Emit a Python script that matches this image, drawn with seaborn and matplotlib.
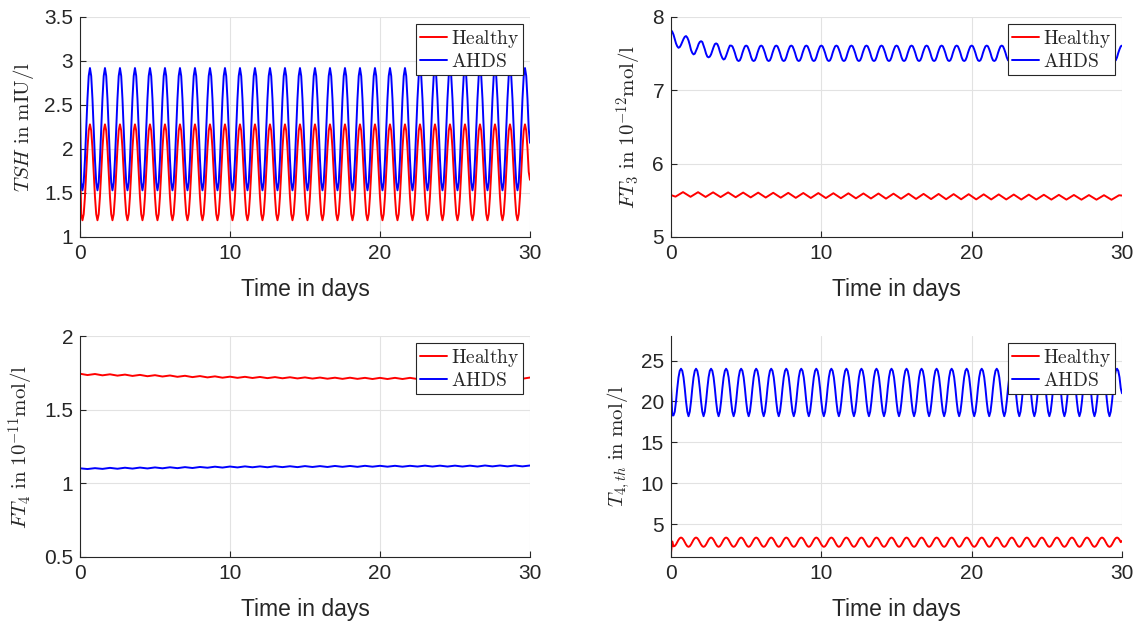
import numpy as np
import seaborn as sns
import matplotlib.pyplot as plt

# values
# oscillating series: one day sampled every 2 h (12 samples per day),
# the first day(s) listed on their own because the curves start off-cycle
n_days = 30
per_day = 12

# TSH in mIU/l
tsh_healthy_day0 = [1.87, 1.26, 1.19, 1.26, 1.46, 1.74, 2.01, 2.21, 2.28, 2.21, 2.01, 1.74]
tsh_healthy_day = [1.46, 1.26, 1.19, 1.26, 1.46, 1.74, 2.01, 2.21, 2.28, 2.21, 2.01, 1.74]
tsh_healthy_end = 1.65
tsh_ahds_day0 = [2.52, 1.62, 1.53, 1.62, 1.88, 2.23, 2.57, 2.83, 2.92, 2.83, 2.57, 2.23]
tsh_ahds_day = [1.88, 1.62, 1.53, 1.62, 1.88, 2.23, 2.57, 2.83, 2.92, 2.83, 2.57, 2.23]
tsh_ahds_end = 2.07

# FT3 in 10^-12 mol/l
ft3_ahds_days0_3 = [
    7.82, 7.80, 7.76, 7.70, 7.64, 7.60, 7.58, 7.59, 7.62, 7.66, 7.70, 7.73,
    7.74, 7.72, 7.68, 7.62, 7.55, 7.51, 7.49, 7.50, 7.54, 7.58, 7.63, 7.66,
    7.67, 7.66, 7.61, 7.56, 7.50, 7.46, 7.45, 7.46, 7.49, 7.54, 7.59, 7.63,
    7.64, 7.63, 7.59, 7.53, 7.48, 7.44, 7.42, 7.43, 7.47, 7.52, 7.57, 7.61,
]
ft3_ahds_day = [7.61, 7.60, 7.56, 7.51, 7.45, 7.41, 7.40, 7.41, 7.45, 7.51, 7.56, 7.60]
ft3_ahds_end = 7.61
# healthy FT3 only ripples: troughs at day + 0.3, peaks at day + 0.8
ft3_healthy_troughs = [5.550, 5.548, 5.546, 5.544, 5.542, 5.540, 5.538, 5.536, 5.534, 5.532,
                       5.531, 5.529, 5.527, 5.525, 5.523, 5.521, 5.519, 5.517, 5.515, 5.514,
                       5.513, 5.512, 5.512, 5.511, 5.511, 5.510, 5.510, 5.509, 5.509, 5.508]
ft3_healthy_peaks = [5.612, 5.611, 5.609, 5.608, 5.606, 5.605, 5.603, 5.602, 5.600, 5.599,
                     5.597, 5.596, 5.594, 5.593, 5.591, 5.590, 5.588, 5.587, 5.585, 5.584,
                     5.582, 5.581, 5.579, 5.578, 5.576, 5.575, 5.573, 5.572, 5.570, 5.569]
ft3_healthy_start = 5.572
ft3_healthy_end = 5.565

# FT4 in 10^-11 mol/l: peaks at whole days, troughs half a day later
ft4_healthy_peaks = [1.744, 1.742, 1.740, 1.738, 1.736, 1.734, 1.732, 1.730, 1.728, 1.726,
                     1.724, 1.723, 1.722, 1.721, 1.720, 1.719, 1.718, 1.717, 1.717, 1.716,
                     1.716, 1.716, 1.716, 1.716, 1.716, 1.717, 1.717, 1.717, 1.718, 1.718, 1.718]
ft4_healthy_troughs = [1.735, 1.733, 1.731, 1.729, 1.727, 1.725, 1.723, 1.721, 1.719, 1.717,
                       1.716, 1.715, 1.714, 1.713, 1.712, 1.711, 1.710, 1.709, 1.709, 1.708,
                       1.708, 1.708, 1.708, 1.708, 1.709, 1.709, 1.709, 1.710, 1.710, 1.710]
ft4_ahds_peaks = [1.102, 1.103, 1.105, 1.106, 1.107, 1.108, 1.109, 1.110, 1.111, 1.113,
                  1.114, 1.115, 1.115, 1.116, 1.116, 1.117, 1.117, 1.118, 1.118, 1.119,
                  1.119, 1.119, 1.119, 1.120, 1.120, 1.120, 1.120, 1.121, 1.121, 1.121, 1.121]
ft4_ahds_troughs = [1.097, 1.098, 1.099, 1.100, 1.101, 1.102, 1.103, 1.104, 1.106, 1.107,
                    1.108, 1.109, 1.109, 1.110, 1.110, 1.111, 1.111, 1.112, 1.112, 1.113,
                    1.113, 1.113, 1.114, 1.114, 1.114, 1.114, 1.114, 1.115, 1.115, 1.115]

# T4,th in mol/l
t4th_healthy_day0 = [1.50, 2.90, 2.30, 2.35, 2.53, 2.81, 3.10, 3.30, 3.38, 3.30, 3.10, 2.81]
t4th_healthy_day = [2.53, 2.32, 2.24, 2.32, 2.53, 2.81, 3.10, 3.30, 3.38, 3.30, 3.10, 2.81]
t4th_healthy_end = 2.97
t4th_ahds_day0 = [22.1, 18.3, 18.3, 18.75, 20.0, 21.6, 22.95, 23.75, 24.0, 23.75, 22.95, 21.6]
t4th_ahds_day = [20.0, 18.75, 18.2, 18.75, 20.0, 21.6, 22.95, 23.75, 24.0, 23.75, 22.95, 21.6]
t4th_ahds_end = 21.0

day_ticks = [0, 10, 20, 30]
labels = ['Healthy', 'AHDS']
colors = ['#ff0000', '#0000ff']


def cyclic(lead, day, end):
    """lead days, then the repeated daily cycle, then the value at day 30"""
    vals = list(lead) + list(day) * (n_days - len(lead) // per_day) + [end]
    return np.arange(len(vals)) / per_day, np.array(vals)


def whole_half(peaks, troughs):
    """interleave values at whole days and half days"""
    vals = np.empty(len(peaks) + len(troughs))
    vals[0::2] = peaks
    vals[1::2] = troughs
    return np.arange(len(vals)) / 2, vals


def ripple(start, troughs, peaks, end):
    t = [0.0]
    vals = [start]
    for k, (lo, hi) in enumerate(zip(troughs, peaks)):
        t += [k + 0.3, k + 0.8]
        vals += [lo, hi]
    return np.array(t + [float(n_days)]), np.array(vals + [end])


sns.set_theme(style='whitegrid')
plt.rcParams['font.family'] = ['Liberation Sans', 'DejaVu Sans']
plt.rcParams['mathtext.fontset'] = 'cm'
plt.rcParams['axes.edgecolor'] = '#262626'
plt.rcParams['axes.linewidth'] = 0.8
plt.rcParams['grid.color'] = '#e2e2e2'
plt.rcParams['grid.linewidth'] = 0.8
plt.rcParams['xtick.color'] = '#262626'
plt.rcParams['ytick.color'] = '#262626'

fig = plt.figure(figsize=(11.39, 6.25), dpi=100)

panels = [
    ([0.0702, 0.6208, 0.3951, 0.352],
     [cyclic(tsh_healthy_day0, tsh_healthy_day, tsh_healthy_end),
      cyclic(tsh_ahds_day0, tsh_ahds_day, tsh_ahds_end)],
     (1, 3.5), [1, 1.5, 2, 2.5, 3, 3.5], r'$TSH\ \mathrm{in\ mIU/l}$'),
    ([0.5891, 0.6208, 0.3960, 0.352],
     [ripple(ft3_healthy_start, ft3_healthy_troughs, ft3_healthy_peaks, ft3_healthy_end),
      cyclic(ft3_ahds_days0_3, ft3_ahds_day, ft3_ahds_end)],
     (5, 8), [5, 6, 7, 8], r'$FT_3\ \mathrm{in}\ 10^{-12}\mathrm{mol/l}$'),
    ([0.0702, 0.1088, 0.3951, 0.3536],
     [whole_half(ft4_healthy_peaks, ft4_healthy_troughs),
      whole_half(ft4_ahds_peaks, ft4_ahds_troughs)],
     (0.5, 2), [0.5, 1, 1.5, 2], r'$FT_4\ \mathrm{in}\ 10^{-11}\mathrm{mol/l}$'),
    ([0.5891, 0.1088, 0.3960, 0.3536],
     [cyclic(t4th_healthy_day0, t4th_healthy_day, t4th_healthy_end),
      cyclic(t4th_ahds_day0, t4th_ahds_day, t4th_ahds_end)],
     (1, 28), [5, 10, 15, 20, 25], r'$T_{4,th}\ \mathrm{in\ mol/l}$'),
]

for rect, series, ylim, yticks, ylabel in panels:
    ax = fig.add_axes(rect)
    for (t, v), name, c in zip(series, labels, colors):
        sns.lineplot(x=t, y=v, ax=ax, color=c, linewidth=1.4,
                     label=r'$\mathrm{%s}$' % name)

    ax.set_xlim(0, 30)
    ax.set_ylim(*ylim)
    ax.set_xticks(day_ticks, labels=[str(d) for d in day_ticks])
    ax.set_yticks(yticks, labels=[f'{v:g}' for v in yticks])
    ax.tick_params(axis='both', direction='in', length=4, width=0.8,
                   labelsize=15, pad=5, left=True, bottom=True)
    for side in ['top', 'right']:
        ax.spines[side].set_visible(False)
    ax.set_xlabel('Time in days', fontsize=16.5, labelpad=11)
    ax.set_ylabel(ylabel, fontsize=15, labelpad=6)

    leg = ax.legend(loc='upper right', fontsize=14, frameon=True, fancybox=False,
                    framealpha=1, edgecolor='#262626', borderpad=0.2,
                    handlelength=1.4, handletextpad=0.2, labelspacing=0.15,
                    borderaxespad=0.35)
    leg.get_frame().set_linewidth(0.8)

fig.savefig('out.png', dpi=100)
